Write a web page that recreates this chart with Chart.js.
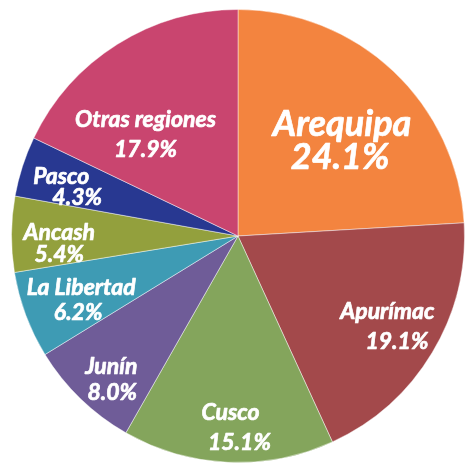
<!DOCTYPE html>
<html>
<head>
<meta charset="utf-8">
<script src="https://cdn.jsdelivr.net/npm/chart.js@4"></script>
<style>
  html, body { margin: 0; padding: 0; background: #fff; }
  #wrap { width: 466px; height: 463px; }
</style>
</head>
<body>
<div id="wrap"><canvas id="diagram"></canvas></div>
<script>
const regions = ['Arequipa', 'Apurímac', 'Cusco', 'Junín', 'La Libertad', 'Ancash', 'Pasco', 'Otras regiones'];
const shares = [24.1, 19.1, 15.1, 8.0, 6.2, 5.4, 4.3, 17.9];
const colors = ['#F3843F', '#A3494B', '#84A55C', '#6F5C98', '#3E9BB4', '#93A03D', '#283891', '#C9456F'];

// label placement: fraction of radius, angle tweak (deg) from slice middle,
// font size, gap between the two lines, x shift of the percent line
const labelRadius = [0.62, 0.79, 0.847, 0.845, 0.754, 0.79, 0.776, 0.607];
const labelTurn = [3.9, -0.5, -1.6, -2.8, -1.6, -2.9, -1.7, -10.1];
const labelSize = [36, 23, 23, 23, 23, 23, 23, 23];
const lineGap = [33, 30, 30, 26, 25, 22, 21, 30];
const valueShift = [-2, 9.5, 9, 1, -3, 0, 16, 0];

const sliceLabels = {
    id: 'sliceLabels',
    afterDatasetsDraw(chart) {
        const ctx = chart.ctx;
        const arcs = chart.getDatasetMeta(0).data;
        ctx.save();
        ctx.fillStyle = '#fff';
        ctx.strokeStyle = '#fff';
        ctx.lineWidth = 0.7;
        ctx.lineJoin = 'round';
        ctx.textAlign = 'center';
        ctx.textBaseline = 'middle';
        arcs.forEach((arc, i) => {
            const p = arc.getProps(['x', 'y', 'startAngle', 'endAngle', 'outerRadius'], true);
            const mid = (p.startAngle + p.endAngle) / 2 + labelTurn[i] * Math.PI / 180;
            const r = p.outerRadius * labelRadius[i];
            const cx = p.x + Math.cos(mid) * r;
            const cy = p.y + Math.sin(mid) * r;
            ctx.font = 'italic bold ' + labelSize[i] + 'px Lato, "Open Sans", sans-serif';
            const lines = [
                [regions[i], cx - valueShift[i] / 2, cy - lineGap[i] / 2],
                [shares[i].toFixed(1) + '%', cx + valueShift[i] / 2, cy + lineGap[i] / 2]
            ];
            lines.forEach(([t, x, y]) => {
                ctx.strokeText(t, x, y);
                ctx.fillText(t, x, y);
            });
        });
        ctx.restore();
    }
};

new Chart(document.getElementById('diagram'), {
    type: 'pie',
    data: {
        labels: regions,
        datasets: [{
            data: shares,
            backgroundColor: colors,
            borderColor: 'rgba(255,255,255,0.45)',
            borderWidth: 1
        }]
    },
    options: {
        responsive: true,
        maintainAspectRatio: false,
        animation: false,
        layout: { padding: { left: 10, top: 9, right: 0, bottom: 0 } },
        plugins: {
            legend: { display: false },
            tooltip: { enabled: false }
        }
    },
    plugins: [sliceLabels]
});
</script>
</body>
</html>
